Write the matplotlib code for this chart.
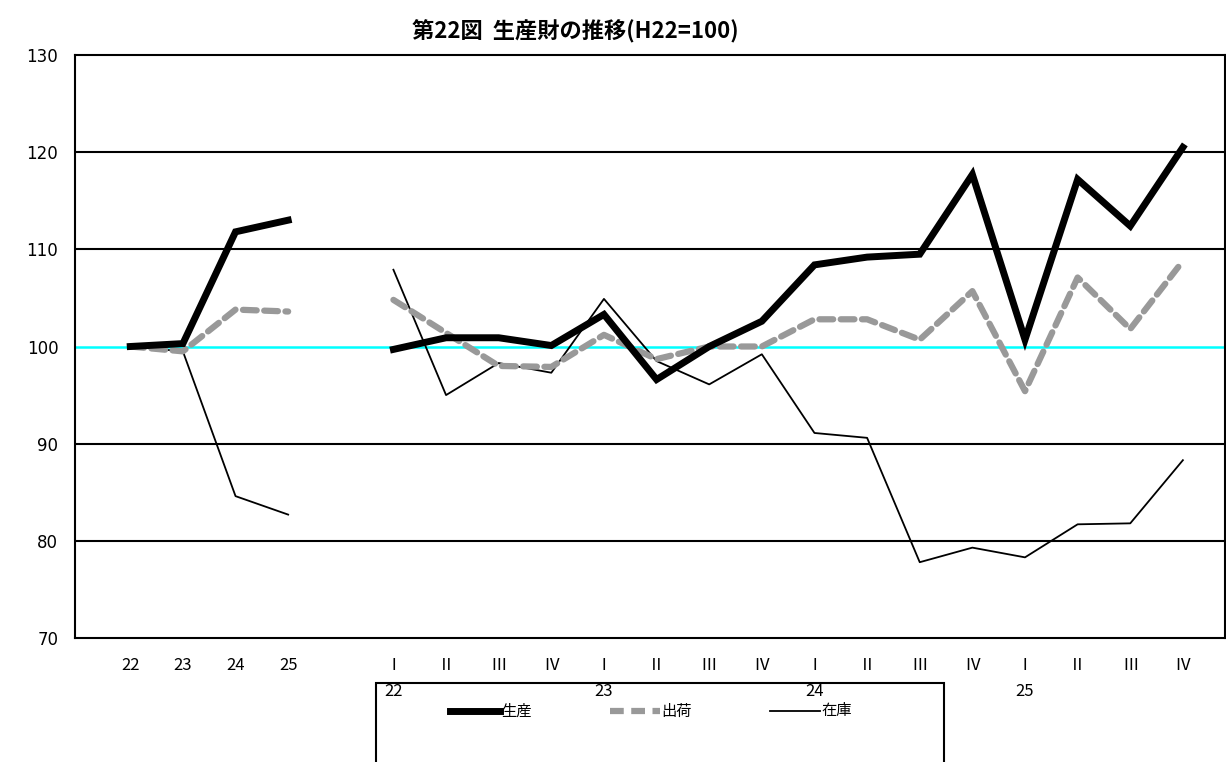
import matplotlib
matplotlib.use("Agg")
import matplotlib.pyplot as plt
from matplotlib.lines import Line2D
from matplotlib.patches import Rectangle

plt.rcParams['font.family'] = ['Noto Sans CJK JP', 'DejaVu Sans']

annual_labels = ['22', '23', '24', '25']
prod_annual = [100.0, 100.3, 111.8, 113.0]
ship_annual = [100.0, 99.5, 103.8, 103.6]
inv_annual = [100.0, 99.5, 84.6, 82.7]

q_labels = ['Ⅰ', 'Ⅱ', 'Ⅲ', 'Ⅳ'] * 4
q_years = ['22', '23', '24', '25']
prod_q = [99.7, 100.9, 100.9, 100.1, 103.3, 96.6, 100.0, 102.6, 108.4, 109.2, 109.5, 117.7, 100.7, 117.2, 112.4, 120.5]
ship_q = [104.8, 101.4, 98.0, 97.9, 101.2, 98.7, 100.0, 100.0, 102.8, 102.8, 100.7, 105.7, 95.4, 107.1, 101.8, 108.8]
inv_q = [107.9, 95.0, 98.3, 97.3, 104.9, 98.5, 96.1, 99.2, 91.1, 90.6, 77.8, 79.3, 78.3, 81.7, 81.8, 88.3]

fig = plt.figure(figsize=(12.26, 7.62), dpi=100)
ax = fig.add_axes([75/1226, 1-638/762, 1150/1226, (638-55)/762])

xa = list(range(4))
xq = list(range(5, 21))
ax.set_xlim(-1.05, 20.8)
ax.set_ylim(70, 130)
for y in [80, 90, 110, 120]:
    ax.axhline(y, color='black', lw=1.5, zorder=1)
ax.axhline(100, color='#00FFFF', lw=1.8, zorder=1)

for xs, p, s, i in [(xa, prod_annual, ship_annual, inv_annual), (xq, prod_q, ship_q, inv_q)]:
    ax.plot(xs, p, color='black', lw=5, zorder=4, solid_joinstyle='miter')
    ax.plot(xs, s, color='#999999', lw=4.5, ls=(0, (2.2, 1.2)), zorder=3, dash_capstyle='round')
    ax.plot(xs, i, color='black', lw=1.3, zorder=2)

ax.set_yticks([70, 80, 90, 100, 110, 120, 130])
ax.set_yticklabels(['70', '80', '90', '100', '110', '120', '130'], fontsize=12, fontfamily='DejaVu Sans')
ax.set_xticks(xa + xq)
ax.set_xticklabels(annual_labels + q_labels, fontsize=12)
ax.tick_params(axis='y', length=0, pad=12)
ax.tick_params(axis='x', length=0, pad=14)
for k, yr in enumerate(q_years):
    ax.text(5 + 4*k, -(692-638)/583, yr, transform=ax.get_xaxis_transform(), ha='center', va='center', fontsize=12)
for sp in ax.spines.values():
    sp.set_linewidth(1.5)

fig.text(575/1226, 1-32/762, '第22図  生産財の推移(H22=100)', ha='center', va='center', fontsize=16, fontweight='bold')

fig.patches.append(Rectangle((376/1226, -0.01), (944-376)/1226, (762-683)/762+0.01,
                             transform=fig.transFigure, fill=False, ec='black', lw=1.5))
items = [(450, '生産', dict(color='black', lw=5)),
         (610, '出荷', dict(color='#999999', lw=4.5, ls=(0, (2.2, 1.2)))),
         (770, '在庫', dict(color='black', lw=1.3))]
for x0, lab, kw in items:
    fig.lines.append(Line2D([x0/1226, (x0+50)/1226], [1-711/762]*2, transform=fig.transFigure, **kw))
    fig.text((x0+51)/1226, 1-711/762, lab, va='center', ha='left', fontsize=11)

fig.savefig('out.png', dpi=100)
